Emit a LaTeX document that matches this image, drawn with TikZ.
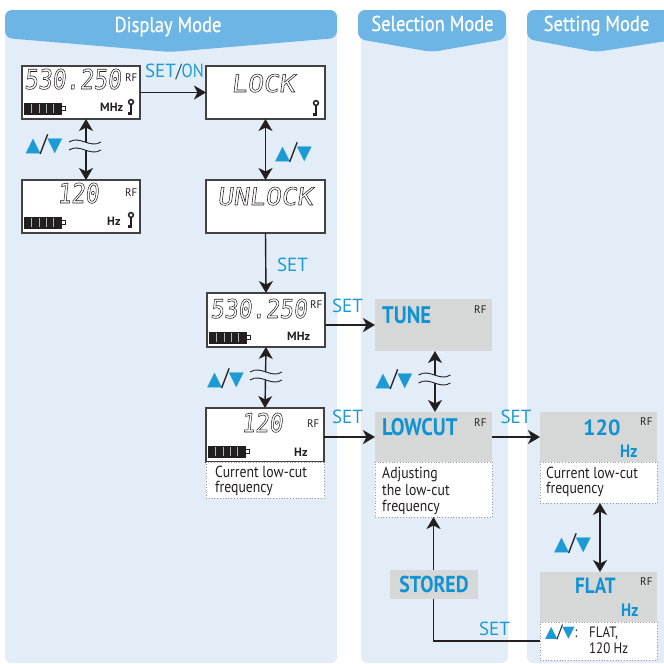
\documentclass[tikz,border=0pt]{standalone}
\usepackage{fontspec}
\usetikzlibrary{arrows.meta}
\setmainfont{PT Sans}
\newfontfamily\condfont[FakeStretch=0.86]{PT Sans}
\newfontfamily\headfont[FakeStretch=0.86,FakeBold=0.6]{PT Sans}
\newfontfamily\lcdfont[FakeSlant=0.12]{DejaVu Sans Mono}
\newfontfamily\symfont{DejaVu Sans}
\definecolor{panelbg}{HTML}{E2EDF8}
\definecolor{headbg}{HTML}{6DB5E4}
\definecolor{setblue}{HTML}{1C9AD6}
\definecolor{boldblue}{HTML}{1193D3}
\definecolor{grayfill}{HTML}{D6D7D7}
\definecolor{ink}{HTML}{231F20}
\definecolor{notegray}{HTML}{9A9A9A}
\newcommand\fs[1]{\fontsize{#1}{#1}\selectfont}
\newcommand\outl[1]{\special{pdf:literal direct 1 Tr 0.5 w}#1\special{pdf:literal direct 0 Tr}}
\newcommand\updn[2]{{\fontsize{#1}{#1}\symfont\textcolor{setblue}{▲}}\kern-0.3pt{\fontsize{#2}{#2}\condfont\textcolor{ink}{/}}\kern-0.3pt{\fontsize{#1}{#1}\symfont\textcolor{setblue}{▼}}}
\newcommand\lcdbattery[2]{%
  \begin{scope}[shift={(#1,#2)}]
    \filldraw[fill=ink,draw=ink,line width=0.7pt] (0,0) rectangle (37,11);
    \foreach \i in {7.4,14.8,22.2,29.6} \draw[gray!60,line width=0.6pt] (\i,1) -- (\i,10);
    \filldraw[fill=white,draw=ink,line width=0.7pt] (37,3.3) rectangle (41,7.7);
  \end{scope}}
\newcommand\keyicon[2]{%
  \begin{scope}[shift={(#1,#2)}]
    \draw[ink,line width=1.5pt] (0,3) circle[radius=2.4];
    \fill[ink] (-1.2,5.2) rectangle (1.2,16);
    \fill[ink] (-3.4,13.3) rectangle (0,16);
  \end{scope}}
\newcommand\wavebreak[2]{%
  \begin{scope}[shift={(#1,#2)}]
    \fill[panelbg] (-16,-4) .. controls (-5,-11) and (5,3) .. (16,-4) -- (16,4) .. controls (5,11) and (-5,-3) .. (-16,4) -- cycle;
    \draw[ink,line width=0.9pt] (-16,-4) .. controls (-5,-11) and (5,3) .. (16,-4);
    \draw[ink,line width=0.9pt] (-16,4) .. controls (-5,-3) and (5,11) .. (16,4);
  \end{scope}}
\tikzset{
  lcd/.style={draw=ink!85,line width=1.1pt,fill=white,minimum width=118pt,minimum height=53pt,anchor=north west,inner sep=0pt,outer sep=0pt},
  gbox/.style={fill=grayfill,minimum width=117pt,minimum height=50pt,anchor=north west,inner sep=0pt,outer sep=0pt},
  notebox/.style={draw=notegray,dotted,line width=0.8pt,fill=white,anchor=north west,inner sep=0pt,outer sep=0pt,minimum width=117pt},
  arr/.style={draw=ink,line width=1.4pt,-{Stealth[length=12pt,width=14pt,inset=3.5pt]}},
  dbl/.style={draw=ink,line width=1.4pt,{Stealth[length=12pt,width=14pt,inset=3.5pt]}-{Stealth[length=12pt,width=14pt,inset=3.5pt]}},
  setlbl/.style={text=setblue,font=\fs{19},inner sep=0pt},
  headtxt/.style={text=white,font=\headfont\fs{21.5},anchor=base,inner sep=0pt},
  lcdtxt/.style={text=ink,font=\lcdfont\fs{23},anchor=base west,inner sep=0pt},
  rf/.style={text=ink,font=\fs{11},anchor=base west,inner sep=0pt},
  unit/.style={text=ink,font=\bfseries\fs{12},anchor=base west,inner sep=0pt},
  bigblue/.style={text=boldblue,font=\condfont\bfseries\fs{24},anchor=base west,inner sep=0pt},
  notetxt/.style={text=ink,font=\condfont\fs{16},align=left,anchor=north west,inner sep=0pt},
  sym/.style={inner sep=0pt},
}
\begin{document}
\begin{tikzpicture}[x=1pt,y=-1pt]
\useasboundingbox (0,0) rectangle (664,664);
% panels
\fill[panelbg,rounded corners=6] (5,30) rectangle (337,663);
\fill[panelbg,rounded corners=6] (361,30) rectangle (508,663);
\fill[panelbg,rounded corners=6] (527,30) rectangle (672,663);
\fill[headbg,rounded corners=7] (5,38) -- (5,10) -- (337,10) -- (337,38) -- (170,52) -- cycle;
\fill[headbg,rounded corners=7] (358,39) -- (358,10) -- (506,10) -- (506,39) -- (432,52) -- cycle;
\fill[headbg,rounded corners=7] (527,39) -- (527,10) -- (680,10) -- (680,39) -- (596,52) -- cycle;
\node[headtxt] (hdisp) at (168,32) {Display Mode};
\node[headtxt] (hsel) at (432.5,31) {Selection Mode};
\node[headtxt] (hset) at (596.5,31) {Setting Mode};

% LCD boxes
\node[lcd] (A) at (22,66) {};
\node[lcd] (B) at (22,180) {};
\node[lcd,minimum width=119pt] (LOCK) at (206,66) {};
\node[lcd,minimum width=119pt] (UNLOCK) at (206,180) {};
\node[lcd,minimum height=54pt] (C) at (207,293) {};
\node[lcd,minimum height=54pt] (D) at (206,408) {};
\node[notebox,minimum width=118pt,minimum height=36pt] (Dn) at (206,462) {};

% gray boxes
\node[gbox,minimum height=52pt] (TUNE) at (375,299) {};
\node[gbox] (LOWCUT) at (375,412) {};
\node[notebox,minimum height=55pt] (LCn) at (375,462) {};
\node[gbox] (S120) at (540,412) {};
\node[notebox,minimum height=41pt] (S120n) at (540,462) {};
\node[gbox] (FLAT) at (540,572) {};
\node[notebox,minimum height=38pt] (FLATn) at (540,622) {};

% LCD contents
\node[lcdtxt] (Adig) at (24,89) {\scalebox{1}[1.18]{\outl{530.250}}};
\node[rf] (Arf) at (125,81) {RF};
\lcdbattery{24}{103}
\node[unit] (Aunit) at (100,111) {MHz};
\keyicon{131}{99}

\node[lcdtxt] (Bdig) at (57,203) {\scalebox{1}[1.18]{\outl{120}}};
\node[rf] (Brf) at (125,196) {RF};
\lcdbattery{24}{217}
\node[unit] (Bunit) at (107,225) {Hz};
\keyicon{131}{212}

\node[lcdtxt] (Ltxt) at (231,92) {\scalebox{1.15}[1.05]{\outl{LOCK}}};
\keyicon{316}{100}
\node[lcdtxt] (Utxt) at (217,205) {\scalebox{1.15}[1.05]{\outl{UNLOCK}}};

\node[lcdtxt] (Cdig) at (210,318) {\scalebox{1}[1.12]{\outl{530.250}}};
\node[rf] (Crf) at (310,308) {RF};
\lcdbattery{209}{332}
\node[unit] (Cunit) at (287,340) {MHz};

\node[lcdtxt] (Ddig) at (241,432) {\scalebox{1}[1.12]{\outl{120}}};
\node[rf] (Drf) at (307,427) {RF};
\lcdbattery{208}{446}
\node[unit] (Dunit) at (294,456) {Hz};
\node[notetxt] (Dntxt) at (215,466) {Current low-cut\\[-1pt]frequency};

% gray box contents
\node[bigblue] (Ttxt) at (382,323) {TUNE};
\node[rf] (Trf) at (474,313) {RF};
\node[bigblue] (LCtxt) at (382,435) {LOWCUT};
\node[rf] (LCrf) at (474,426) {RF};
\node[notetxt] (LCntxt) at (382,467) {Adjusting\\[0.5pt]the low-cut\\[0.5pt]frequency};
\node[bigblue,font=\bfseries\fs{22}] (S1txt) at (583,435) {120};
\node[bigblue,font=\condfont\bfseries\fs{18}] (S1hz) at (620,457) {Hz};
\node[rf] (S1rf) at (640,425) {RF};
\node[notetxt] (S1ntxt) at (546,467) {Current low-cut\\[-1pt]frequency};
\node[bigblue,font=\condfont\bfseries\fs{22}] (Ftxt) at (575,593) {FLAT};
\node[bigblue,font=\condfont\bfseries\fs{18}] (Fhz) at (621,616) {Hz};
\node[rf] (Frf) at (640,585) {RF};
\node[sym,anchor=base west] (Fsym) at (545,637) {\updn{16}{18}{\condfont\fs{15}\textcolor{ink}{:}}};
\node[notetxt,font=\condfont\fs{15},anchor=base west] (Fn1) at (589,637) {FLAT,};
\node[notetxt,font=\condfont\fs{15},anchor=base west] (Fn2) at (589,653) {120 Hz};

% connectors
\draw[arr] (A.east) -- (LOCK.west);
\node[setlbl,anchor=base] (setON) at (174.5,77) {SET{\condfont\textcolor{setblue!55!black}{/}ON}};
\draw[dbl] ([xshift=5pt]A.south) -- ([xshift=5pt]B.north);
\wavebreak{85}{146}
\node[sym] (udAB) at (44,145) {\updn{19.5}{24}};
\draw[dbl] (LOCK.south) -- (UNLOCK.north);
\node[sym] (udLU) at (293.5,152.5) {\updn{19.5}{24}};
\draw[arr] (UNLOCK.south) -- (C.north);
\node[setlbl] (set1) at (292.5,265) {SET};
\draw[arr] (C.east |- TUNE.west) -- (TUNE.west);
\node[setlbl] (set2) at (347.5,305.5) {SET};
\draw[dbl] (C.south) -- (D.north);
\wavebreak{266}{376}
\node[sym] (udCD) at (225.5,379) {\updn{19.5}{24}};
\draw[arr] (D.east |- LOWCUT.west) -- (LOWCUT.west);
\node[setlbl] (set3) at (347.5,417) {SET};
\draw[dbl] ([xshift=1.5pt]TUNE.south) -- ([xshift=1.5pt]LOWCUT.north);
\wavebreak{434.5}{379}
\node[sym] (udTL) at (394,380) {\updn{19.5}{24}};
\draw[arr] (LOWCUT.east) -- (S120.west);
\node[setlbl] (set4) at (516,417) {SET};
\draw[dbl] ([xshift=1.5pt]S120n.south) -- ([xshift=1.5pt]FLAT.north);
\node[sym] (udSF) at (572.5,543.5) {\updn{19.5}{24}};
\draw[arr] (FLATn.west) -| (LCn.south);
\node[setlbl] (set5) at (494.5,629) {SET};
\node[gbox,minimum width=88pt,minimum height=29pt,text=boldblue,font=\condfont\bfseries\fs{23}] (STORED) at (390,570) {STORED};
\end{tikzpicture}
\end{document}
